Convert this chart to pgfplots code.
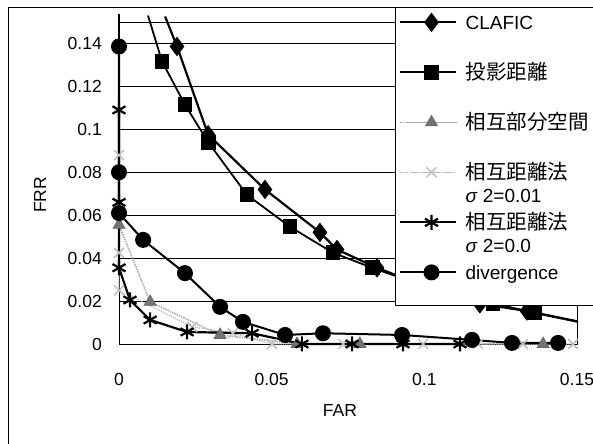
\documentclass[border=0pt]{standalone}
\usepackage{fontspec}
\setmainfont{Liberation Sans}
\newfontfamily\jpf{Noto Sans CJK JP}
\newcommand\jp{\jpf\fontsize{20.5bp}{23bp}\selectfont}
\usepackage{pgfplots}
\pgfplotsset{compat=1.18}
\usetikzlibrary{plotmarks}
\newcommand\LE[1]{\smash{\parbox[t]{140bp}{\raggedright\baselineskip=23bp #1}}}
\begin{document}
\begin{tikzpicture}[font=\fontsize{17.5bp}{21bp}\selectfont]
\useasboundingbox (0,0) rectangle (593bp,444bp);
\draw[line width=0.8bp] (8bp,-5bp) -- (8bp,437bp) -- (600bp,437bp);
\begin{axis}[
  scale only axis, width=458bp, height=322bp,
  at={(119bp,100bp)}, anchor=south west,
  xmin=0, xmax=0.15, ymin=0, ymax=0.15,
  xtick={0,0.05,0.1,0.15}, xticklabels={0,0.05,0.1,0.15},
  ytick={0,0.02,0.04,0.06,0.08,0.1,0.12,0.14},
  yticklabels={0,0.02,0.04,0.06,0.08,0.1,0.12,0.14},
  major tick length=0,
  yticklabel style={anchor=east, inner sep=0pt, xshift=-17bp, font=\fontsize{17.5bp}{21bp}\selectfont},
  xticklabel style={anchor=north, inner sep=0pt, yshift=-29bp, font=\fontsize{17.5bp}{21bp}\selectfont},
  xlabel={FAR}, ylabel={FRR},
  xlabel style={at={(axis description cs:0.4825,-0.205)}, anchor=center, font=\fontsize{17.5bp}{21bp}\selectfont},
  ylabel style={at={(axis description cs:-0.1725,0.4627)}, anchor=center, font=\fontsize{17.5bp}{21bp}\selectfont},
  ymajorgrids, grid style={black, line width=0.6bp},
  axis line style={black, line width=0.8bp},
  clip=false,
  legend image code/.code={\path (0bp,7bp) -- (56bp,7bp);\draw[mark repeat=2,mark phase=2] plot coordinates {(6bp,7bp)(31bp,7bp)(56bp,7bp)};},
  legend style={at={(rel axis cs:0.6026,1.0466)}, anchor=north west,
    draw=black, line width=0.8bp, fill=white, inner sep=4bp, row sep=25bp, column sep=6bp,
    cells={anchor=base west},
    nodes={inner sep=2bp, text height=16bp, text depth=5bp}, font=\fontsize{19bp}{23bp}\selectfont},
]
% CLAFIC
\addplot[black, line width=2.2bp, mark=diamond*, mark size=8bp, mark options={solid, fill=black}]
 coordinates {(0.0190,0.1386) (0.0292,0.0975) (0.0478,0.0720) (0.0658,0.0520) (0.0714,0.0440) (0.0845,0.0355) (0.1000,0.0270) (0.1182,0.0187) (0.1336,0.0154)};
\addlegendentry{\LE{CLAFIC}}
% projection distance
\addplot[black, line width=1.8bp, mark=square*, mark size=6.5bp, mark options={solid, fill=black}]
 coordinates {(0.0141,0.1316) (0.0216,0.1115) (0.0292,0.0940) (0.0419,0.0695) (0.0560,0.0546) (0.0701,0.0425) (0.0829,0.0355) (0.1000,0.0270) (0.1225,0.0190) (0.1360,0.0145)};
\addlegendentry{\LE{\jp 投影距離}}
% mutual subspace
\addplot[gray!70, line width=1.5bp, densely dotted, mark=triangle*, mark size=7bp, mark options={solid, fill=black!55, draw=black!60, line width=0.6bp}]
 coordinates {(0,0.0555) (0.0102,0.0196) (0.0331,0.0042) (0.0583,0) (0.0789,0) (0.1389,0)};
\addlegendentry{\LE{\jp 相互部分空間}}
% mutual distance sigma 0.01
\addplot[gray!55, line width=1.2bp, densely dotted, mark=x, mark size=7bp, mark options={solid, draw=gray!50, line width=1.5bp}]
 coordinates {(0,0.088) (0,0.0425) (0,0.025) (0.024,0.008) (0.0373,0.005) (0.0501,0) (0.0734,0) (0.0996,0) (0.1176,0) (0.1323,0) (0.1487,0)};
\addlegendentry{\LE{{\jp 相互距離法}\\\textit{σ} 2=0.01}}
% mutual distance sigma 0.0
\addplot[black, line width=2.2bp, mark=asterisk, mark size=7.5bp, mark options={solid, line width=2.2bp}]
 coordinates {(0,0.109) (0,0.066) (0,0.0355) (0.0036,0.0205) (0.0102,0.0112) (0.0223,0.0056) (0.0436,0.005) (0.0599,0) (0.0763,0) (0.0930,0) (0.1117,0)};
\addlegendentry{\LE{{\jp 相互距離法}\\\textit{σ} 2=0.0}}
% divergence
\addplot[black, line width=2bp, mark=*, mark size=7bp, mark options={solid, fill=black}]
 coordinates {(0,0.1386) (0,0.080) (0,0.0610) (0.0079,0.0485) (0.0216,0.0330) (0.0331,0.0173) (0.0406,0.0103) (0.0544,0.0042) (0.0668,0.0050) (0.0927,0.0042) (0.1156,0.0019) (0.1287,0.0005) (0.1438,0.0005)};
\addlegendentry[text depth=20bp]{\LE{divergence}}
% line continuations beyond the plot frame (no marks)
\addplot[black, line width=2.2bp, forget plot] coordinates {(0.0151,0.1526) (0.0190,0.1386)};
\addplot[black, line width=2.2bp, forget plot] coordinates {(0.1336,0.0154) (0.1503,0.0105)};
\addplot[black, line width=1.8bp, forget plot] coordinates {(0.0095,0.1530) (0.0141,0.1316)};
\addplot[black, line width=1.8bp, forget plot] coordinates {(0.1360,0.0145) (0.1503,0.0103)};
\addplot[black, line width=2bp, forget plot] coordinates {(0,0.1535) (0,0.1386)};
\end{axis}
\end{tikzpicture}
\end{document}
